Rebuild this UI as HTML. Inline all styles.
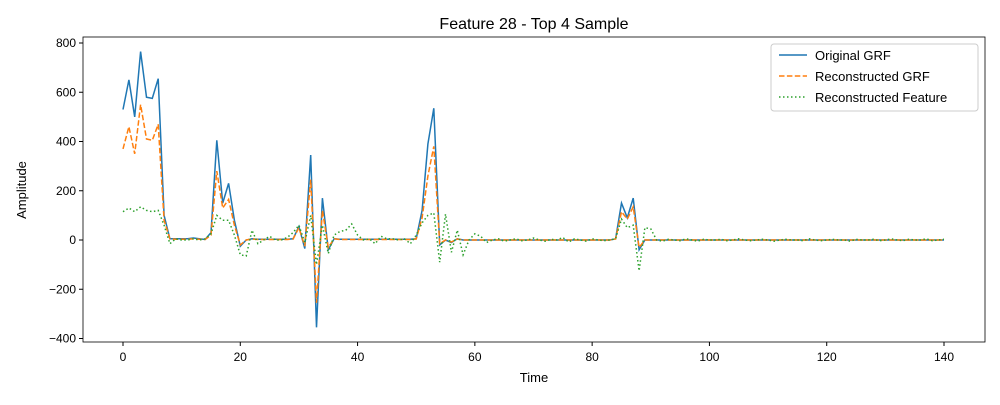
<!DOCTYPE html>
<html><head><meta charset="utf-8"><style>body{margin:0;background:#fff}svg{font-family:"Liberation Sans","DejaVu Sans",sans-serif}</style></head>
<body>
<svg id="chart" width="1000" height="400" xmlns="http://www.w3.org/2000/svg">
<rect width="1000" height="400" fill="#fff"/>
<text x="534" y="29" text-anchor="middle" font-size="16">Feature 28 - Top 4 Sample</text>
<g id="series"></g>
<rect x="83" y="37" width="902" height="305" fill="none" stroke="#000" stroke-width="0.8"/>
<g id="xticks"></g><g id="yticks"></g>
<text x="534" y="382" text-anchor="middle" font-size="13">Time</text>
<text transform="translate(26,190) rotate(-90)" text-anchor="middle" font-size="13">Amplitude</text>
<g>
<rect x="771" y="44" width="207" height="67" fill="#fff" stroke="#ccc" rx="3"/>
<line x1="779" y1="55" x2="807" y2="55" stroke="#1f77b4" stroke-width="1.5"/>
<text x="815" y="60" font-size="13">Original GRF</text>
<line x1="779" y1="76" x2="807" y2="76" stroke="#ff7f0e" stroke-width="1.5" stroke-dasharray="5.5,2.4"/>
<text x="815" y="81" font-size="13">Reconstructed GRF</text>
<line x1="779" y1="97" x2="807" y2="97" stroke="#2ca02c" stroke-width="1.5" stroke-dasharray="1.5,2.5"/>
<text x="815" y="102" font-size="13">Reconstructed Feature</text>
</g>
</svg>
<script>
const xTicks=[0,20,40,60,80,100,120,140];
const yTicks=[-400,-200,0,200,400,600,800];
const original=[
530,650,500,765,580,575,655,100,5,5,
5,5,8,5,2,30,405,150,230,80,
-25,0,5,3,3,3,3,3,3,5,
55,-35,345,-355,170,-40,5,3,3,3,
3,3,3,3,3,3,3,3,3,3,
5,120,390,535,-20,0,-10,5,0,0,
0,0,0,0,0,0,0,0,0,0,
0,0,0,0,0,0,0,0,0,0,
0,0,0,0,5,150,90,170,-40,0,
0,0,0,0,0,0,0,0,0,0,
0,0,0,0,0,0,0,0,0,0,
0,0,0,0,0,0,0,0,0,0,
0,0,0,0,0,0,0,0,0,0,
0,0,0,0,0,0,0,0,0,0,
0];
const reconGRF=[
370,460,350,550,410,405,470,80,5,3,
3,3,5,3,2,20,280,130,165,60,
-20,0,4,2,2,2,2,2,2,4,
50,-25,245,-255,120,-30,5,2,2,2,
2,2,2,2,2,2,2,2,2,2,
4,90,260,380,-15,0,-8,4,0,0,
0,0,0,0,0,0,0,0,0,0,
0,0,0,0,0,0,0,0,0,0,
0,0,0,0,4,115,85,135,-30,0,
0,0,0,0,0,0,0,0,0,0,
0,0,0,0,0,0,0,0,0,0,
0,0,0,0,0,0,0,0,0,0,
0,0,0,0,0,0,0,0,0,0,
0,0,0,0,0,0,0,0,0,0,
0];
const feature=[
115,130,115,135,120,115,120,60,-15,5,
0,0,5,0,5,25,100,80,80,20,
-60,-65,40,-15,0,15,0,0,10,30,
60,-10,100,-100,60,-55,20,35,40,65,
20,0,5,-15,15,5,5,0,5,-15,
20,70,100,110,-90,105,-50,40,-60,0,
25,15,-10,0,5,-5,0,5,-3,0,
8,0,-5,3,0,10,-8,5,0,-5,
5,0,-3,0,5,85,50,60,-125,50,
45,0,-5,3,0,-3,5,0,-5,3,
0,0,3,-3,0,5,0,-3,0,3,
0,-5,0,3,0,0,-3,5,0,-3,
0,3,0,0,-5,3,0,0,3,-3,
0,5,0,-3,3,0,0,5,-3,0,
3];
const X=v=>123+v*(944-123)/140, Y=v=>240-v*0.24625;
const NS="http://www.w3.org/2000/svg";
const mk=(p,t,a)=>{const e=document.createElementNS(NS,t);for(const k in a)e.setAttribute(k,a[k]);p.appendChild(e);return e;};
const xt=document.getElementById('xticks'), yt=document.getElementById('yticks');
xTicks.forEach(v=>{
 const l=mk(xt,'line',{x1:X(v),x2:X(v),y1:342,y2:346,stroke:'#000'});
 
 
 const t=mk(xt,'text',{x:X(v),y:361,'text-anchor':'middle','font-size':12});t.textContent=v;
 
 
});
yTicks.forEach(v=>{
 const l=mk(yt,'line',{x1:79,x2:83,y1:Y(v),y2:Y(v),stroke:'#000'});
 
 
 const t=mk(yt,'text',{x:76,y:Y(v)+4,'text-anchor':'end','font-size':12});t.textContent=String(v).replace('-','\u2212');
 
 
});
const g=document.getElementById('series');
const pts=a=>a.map((v,i)=>X(i).toFixed(1)+','+Y(v).toFixed(1)).join(' ');
const s1=mk(g,'polyline',{points:pts(original),fill:'none',stroke:'#1f77b4','stroke-width':1.5});


const s2=mk(g,'polyline',{points:pts(reconGRF),fill:'none',stroke:'#ff7f0e','stroke-width':1.5,'stroke-dasharray':'5.5,2.4'});


const s3=mk(g,'polyline',{points:pts(feature),fill:'none',stroke:'#2ca02c','stroke-width':1.5,'stroke-dasharray':'1.5,2.5'});


</script>
</body></html>
